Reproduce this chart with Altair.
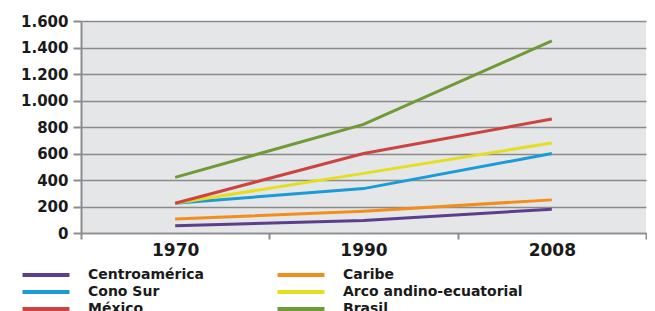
import altair as alt
import pandas as pd

years = ["1970", "1990", "2008"]
regions = ["Centroamérica", "Caribe", "Cono Sur", "Arco andino-ecuatorial", "México", "Brasil"]
colors = ["#5b3f8c", "#f28e1c", "#1a9bd7", "#e3df1e", "#cc4440", "#6f9a37"]
centroamerica = [55, 95, 180]
caribe = [105, 165, 250]
cono_sur = [225, 335, 600]
arco = [225, 450, 680]
mexico = [225, 600, 860]
brasil = [420, 820, 1450]

# legend is filled column by column
legend_order = ["Centroamérica", "Cono Sur", "México", "Caribe", "Arco andino-ecuatorial", "Brasil"]
legend_colors = [colors[regions.index(r)] for r in legend_order]

series = [centroamerica, caribe, cono_sur, arco, mexico, brasil]
rows = []
for r, vals in zip(regions, series):
    for y, v in zip(years, vals):
        rows.append({"year": y, "region": r, "value": v})
df = pd.DataFrame(rows)

FONT = "DejaVu Sans"
TXT = "#1a1a1a"

chart = alt.Chart(df).mark_line(strokeWidth=3).encode(
    x=alt.X("year:N", title=None, sort=years,
            axis=alt.Axis(labelAngle=0, tickBand="extent", grid=False,
                          domainColor="#8c8c8c", domainWidth=1.5,
                          tickColor="#8c8c8c", tickWidth=2, tickSize=6,
                          labelFont=FONT, labelFontSize=17, labelFontWeight="bold",
                          labelColor=TXT, labelPadding=3)),
    y=alt.Y("value:Q", title=None,
            scale=alt.Scale(domain=[0, 1600], nice=False),
            axis=alt.Axis(values=[0, 200, 400, 600, 800, 1000, 1200, 1400, 1600],
                          labelExpr="replace(format(datum.value, ','), ',', '.')",
                          gridColor="#8a8a8a", gridWidth=1.5,
                          domainColor="#8c8c8c", domainWidth=2,
                          tickColor="#8c8c8c", tickWidth=2, tickSize=8,
                          labelFont=FONT, labelFontSize=15, labelFontWeight="bold",
                          labelColor=TXT, labelPadding=5)),
    color=alt.Color("region:N", sort=legend_order,
                    scale=alt.Scale(domain=legend_order, range=legend_colors),
                    legend=alt.Legend(title=None, orient="none", legendX=-44, legendY=245,
                                      columns=2, columnPadding=65, rowPadding=0,
                                      symbolType="M-3.53,0H3.53", symbolSize=177,
                                      symbolStrokeWidth=4, labelOffset=33,
                                      labelFont=FONT, labelFontSize=14, labelFontWeight="bold",
                                      labelColor=TXT, labelLimit=400)),
).properties(
    width=565, height=212,
    autosize=alt.AutoSizeParams(type="none"),
    padding={"left": 73, "top": 13, "right": 1, "bottom": 80},
).configure_view(fill="#e5e6e8", stroke=None)

chart.save("out.html", embed_options={"renderer": "svg", "actions": False})
